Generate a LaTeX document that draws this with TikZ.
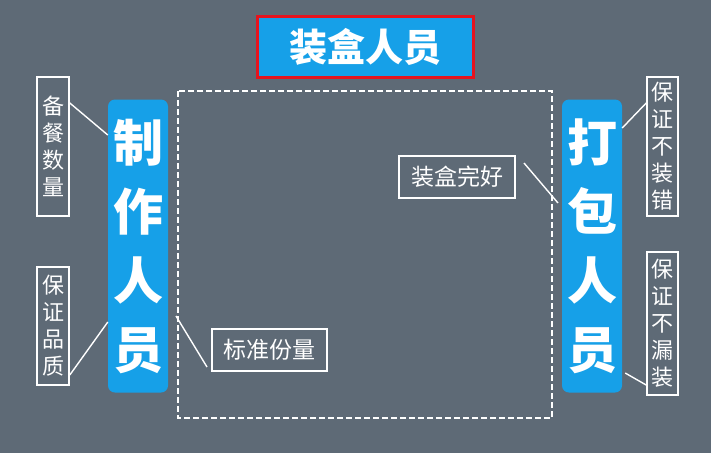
\documentclass[tikz,border=0pt]{standalone}
\usepackage{xcolor}
\usepackage{fontspec}
\usepackage{tikz}
\newfontfamily\cjk{Noto Sans CJK SC}
\definecolor{slate}{RGB}{94,106,118}
\definecolor{barblue}{RGB}{22,160,232}
\definecolor{framered}{RGB}{230,20,30}

\begin{document}
\begin{tikzpicture}[x=1pt,y=-1pt,
    bar/.style={fill=barblue,rounded corners=7pt,minimum width=60pt,minimum height=293pt,
      text=white,align=center,font=\cjk\bfseries\fontsize{50}{69}\selectfont,inner sep=0pt},
    tag/.style={draw=white,line width=1.6pt,text=white,inner sep=0pt,align=center,
      font=\cjk\fontsize{22}{27}\selectfont},
    link/.style={draw=white,line width=1.4pt}]
             \fill[slate] (0,0) rectangle (711,453);
             \useasboundingbox (0,0) rectangle (711,453);

             % title
             \node[draw=framered,line width=3pt,fill=barblue,minimum width=216pt,minimum height=61pt,
               text=white,font=\cjk\bfseries\fontsize{38}{40}\selectfont] (title) at (365,46.5) {装盒人员};

             % dashed frame
             \draw[white,line width=1.3pt,dash pattern=on 6pt off 3pt] (178,91) rectangle (552,418);

             % bars
             \node[bar] (make) at (138,246) {制\\作\\人\\员};
             \node[bar] (pack) at (592,246) {打\\包\\人\\员};

             % tags
             \node[tag,minimum width=32pt,minimum height=139pt] (amount) at (53,146.5) {备\\餐\\数\\量};
             \node[tag,minimum width=32pt,minimum height=118pt] (quality) at (53,326) {保\\证\\品\\质};
             \node[tag,minimum width=31pt,minimum height=139pt] (noerr) at (662.5,146.5) {保\\证\\不\\装\\错};
             \node[tag,minimum width=31pt,minimum height=143pt] (nomiss) at (662.5,323.5) {保\\证\\不\\漏\\装};
             \node[tag,minimum width=115pt,minimum height=42pt,font=\cjk\fontsize{23}{27}\selectfont] (portion) at (269.5,350) {标准份量};
             \node[tag,minimum width=116pt,minimum height=42pt,font=\cjk\fontsize{23}{27}\selectfont] (intact) at (457,177) {装盒完好};

             % link ends
             \coordinate (portionfoot) at (207,367);
             \coordinate (portionend) at (176,316);
             \coordinate (intactfoot) at (524,163);
             \coordinate (intactend) at (558,203);

             % links
             \draw[link] (amount.east |- 0,103) -- (make.west |- 0,135);
             \draw[link] (quality.east |- 0,375) -- (make.west |- 0,322);
             \draw[link] (noerr.west |- 0,103) -- (pack.east |- 0,128);
             \draw[link] (nomiss.west |- 0,385) -- ([xshift=3pt]pack.east |- 0,373);
             \draw[link] (portionfoot) -- (portionend);
             \draw[link] (intactfoot) -- (intactend);
             \end{tikzpicture}
\end{document}
